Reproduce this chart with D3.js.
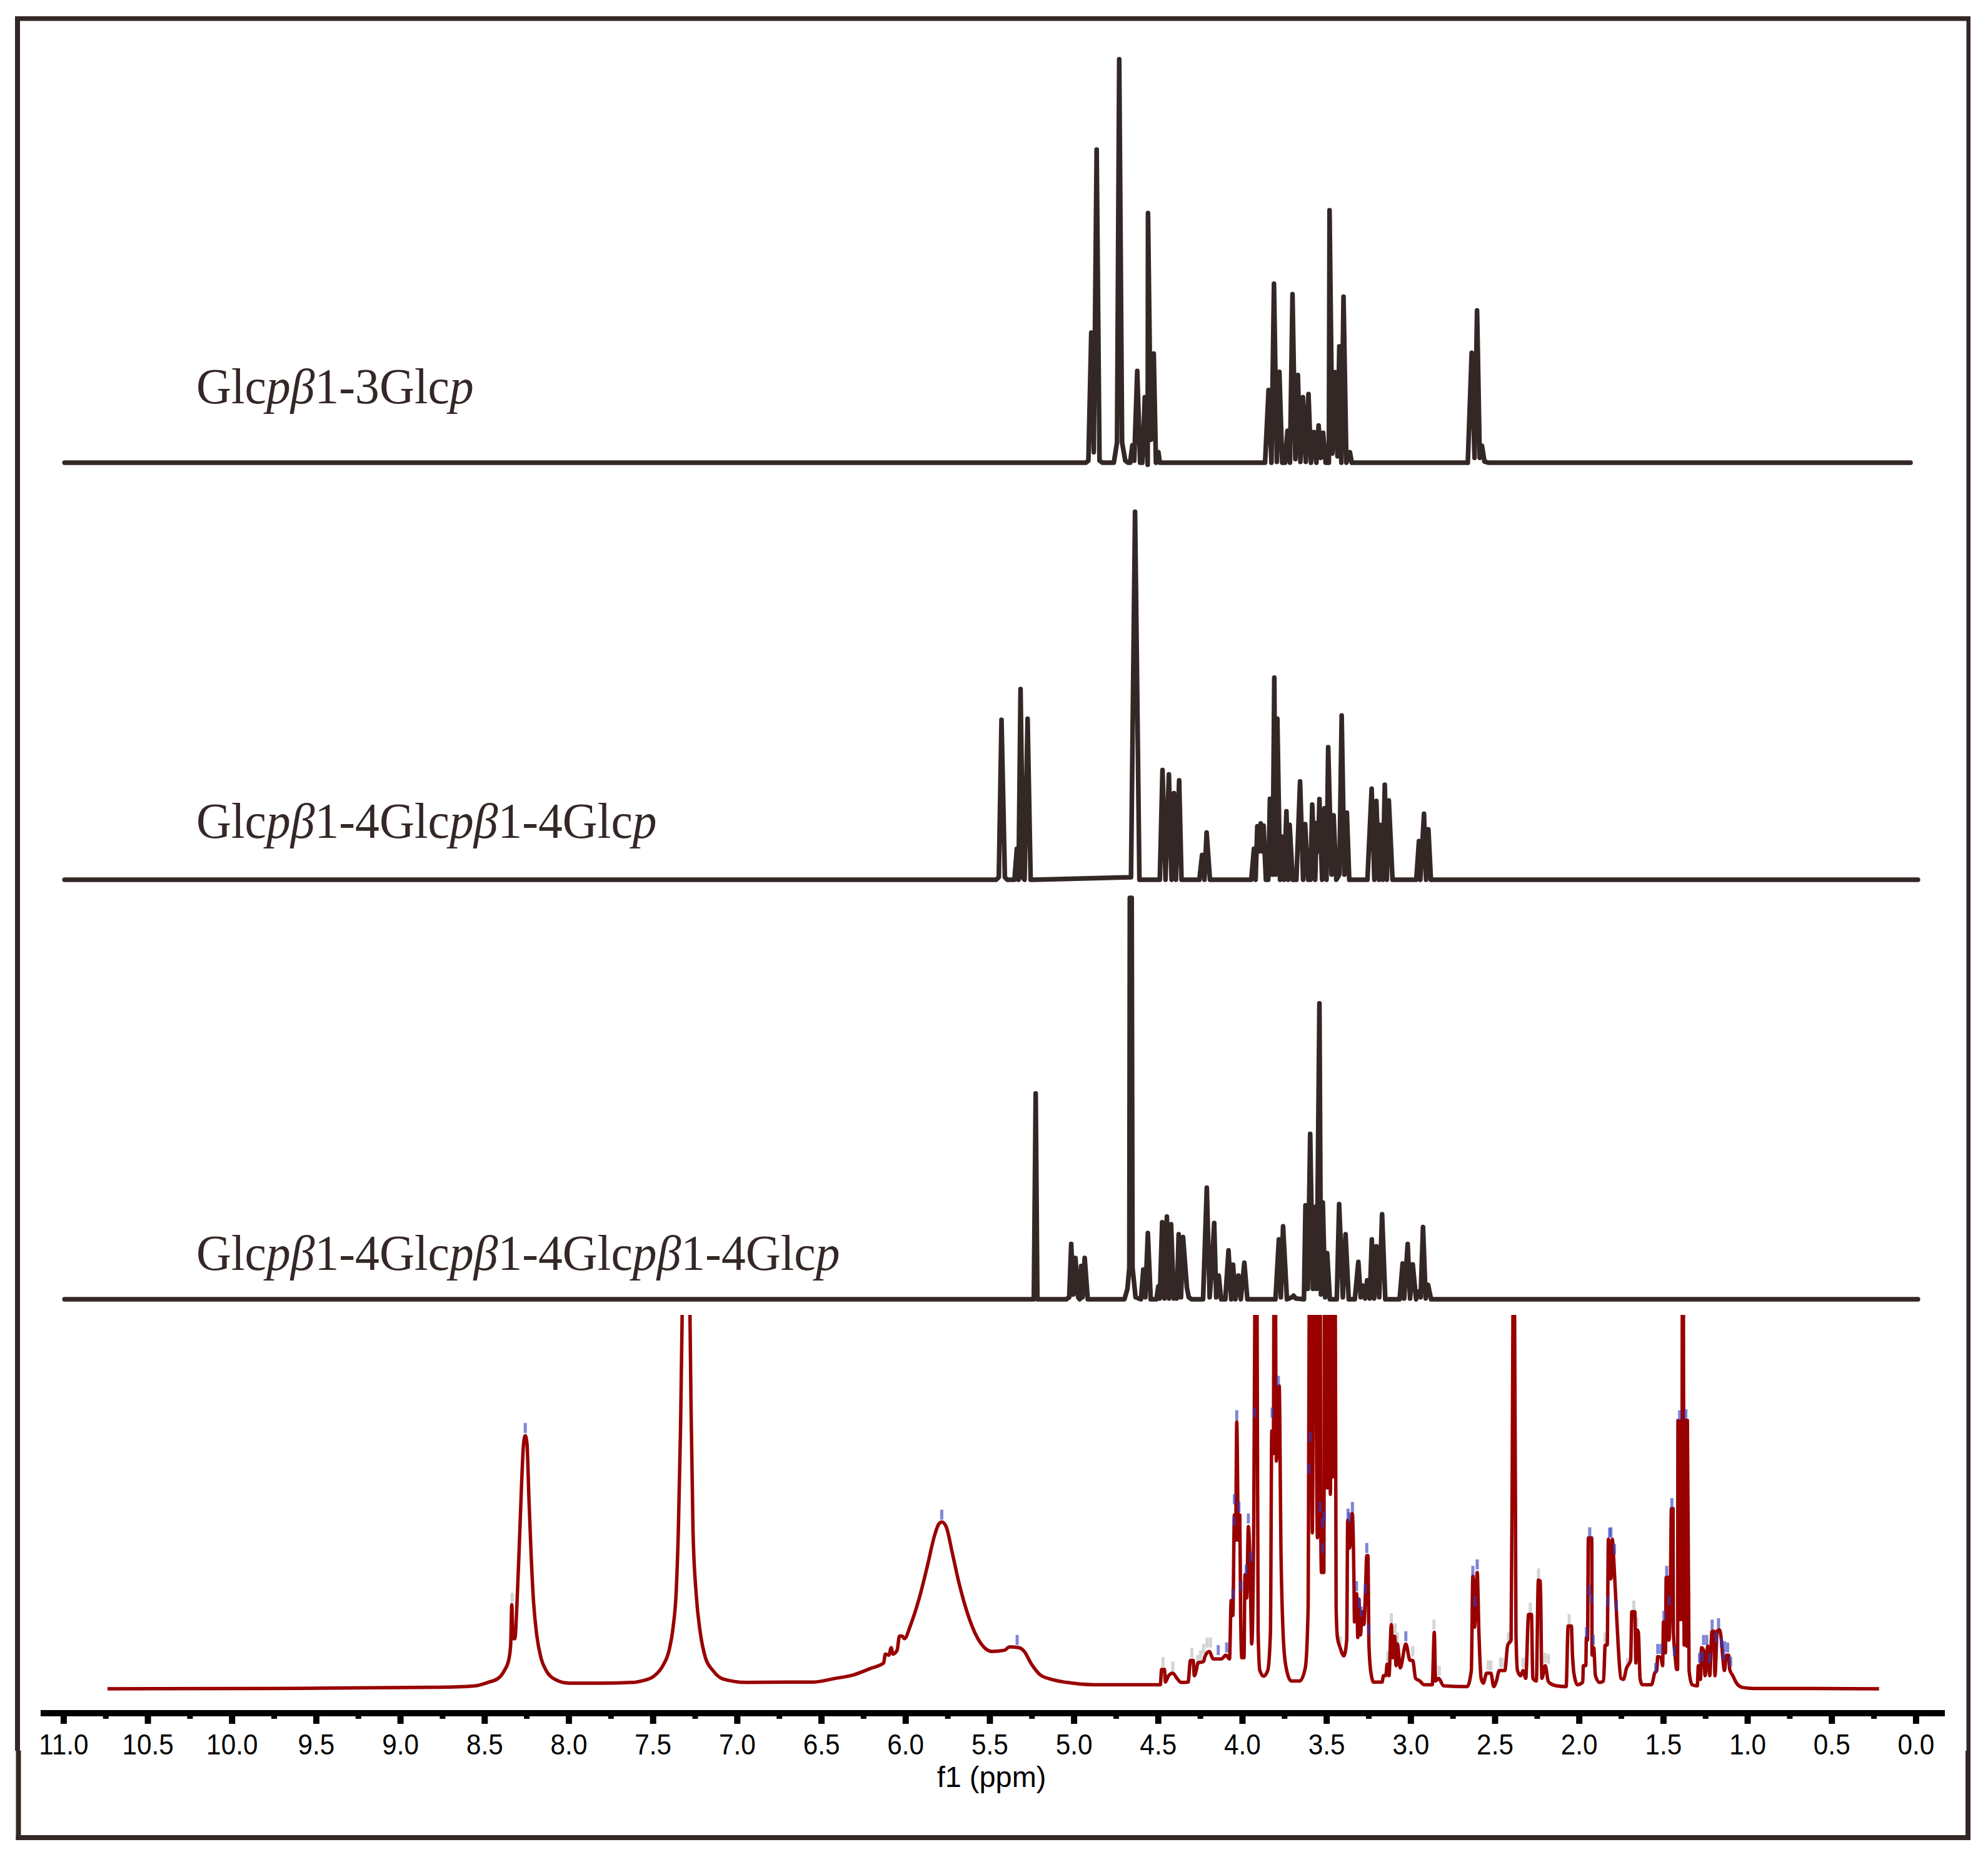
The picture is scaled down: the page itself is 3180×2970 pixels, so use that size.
<!DOCTYPE html>
<html>
  <head>
    <meta charset="utf-8">
    <style>
      html, body { margin: 0; padding: 0; background: #fff; }
      svg { display: block; }
    </style>
    <script src="https://d3js.org/d3.v7.min.js"></script>
    <title>1H NMR spectra</title>
  </head>
  <body>
    <div id="chart"></div>
    <script>
    // --- data: shift in ppm, height in % of the panel
    var labels = ["Glcpβ1-3Glcp", "Glcpβ1-4Glcpβ1-4Glcp", "Glcpβ1-4Glcpβ1-4Glcpβ1-4Glcp"]
    var majorTicks = [11,10.5,10,9.5,9,8.5,8,7.5,7,6.5,6,5.5,5,4.5,4,3.5,3,2.5,2,1.5,1,0.5,0]
    var minorTicks = [10.75,10.25,9.75,9.25,8.75,8.25,7.75,7.25,6.75,6.25,5.75,5.25,4.75,4.25,3.75,3.25,2.75,2.25,1.75,1.25,0.75,0.25]

    // Glcpβ1-3Glcp
    var s1Ppm = [10.995,4.930,4.915,4.898,4.883,4.866,4.849,4.832,4.764,4.745,4.732,4.715,4.696,4.680,4.667,4.654,4.643,4.625,4.608,4.595,4.580,4.563,4.561,4.544,4.527,4.514,4.499,4.491,
      3.866,3.845,3.828,3.813,3.796,3.781,3.764,3.747,3.733,3.718,3.703,3.686,3.671,3.656,3.641,3.624,3.608,3.593,3.576,3.561,3.548,3.535,3.521,3.506,3.487,3.483,3.466,3.451,3.436,3.425,3.413,3.400,3.383,3.362,3.351,
      2.662,2.639,2.622,2.607,2.591,2.578,2.563,2.540,0.033]
    var s1Int = [0,0,0.5,32.2,2.6,77.5,0.5,0,0,5,99.9,5,0.5,0,0,4.3,0.5,22.7,0,0,16.2,-0.5,61.8,5.7,27,0,2.6,0,
      0,18,0,44.3,0.2,22.5,0,0,7.9,0,41.7,0.9,21.7,0.2,16.2,0.2,17,0,7.6,0,9.2,1.2,7.4,0,0,62.5,2.3,22.4,1.6,28.8,0,41.1,0,2.6,0,
      0,27.2,1.2,37.7,1.2,4.2,0.3,0,0]

    // Glcpβ1-4Glcpβ1-4Glcp
    var s2Ppm = [10.995,5.463,5.447,5.431,5.411,5.397,5.354,5.340,5.330,5.318,5.302,5.294,5.276,5.258,5.236,4.662,4.638,4.612,4.491,4.475,4.457,4.437,4.421,4.407,4.395,4.376,4.362,4.340,4.256,4.240,4.226,4.213,4.193,
      3.948,3.932,3.922,3.912,3.902,3.892,3.881,3.875,3.861,3.847,3.837,3.821,3.811,3.803,3.793,3.777,3.767,3.753,3.739,3.729,3.720,3.702,3.680,3.658,3.640,3.628,3.610,3.596,3.586,3.568,3.559,3.551,3.543,3.527,3.513,3.501,3.491,3.471,3.459,3.443,3.425,3.411,3.395,3.380,3.366,
      3.258,3.233,3.217,3.205,3.189,3.183,3.167,3.155,3.143,3.131,3.109,2.968,2.952,2.944,2.922,2.910,2.896,2.881,-0.011]
    var s2Int = [0,0,0.7,43.4,0.7,0,0,8.4,0,51.8,0.4,0,43.7,0,0,0.7,99.9,0,0,29.8,0,28.6,0,23.5,0,27,0,0,0,6.7,0,12.8,0,
      0,8.4,0,14.5,7.7,15.3,7.7,14.7,0,0,22,1.4,54.9,1.4,43.7,0,11.7,0,18.6,0,14.9,0,0,26.7,0,15.1,0,0,20.4,0,15.4,7.7,21.9,0,19.4,0,36,1.4,17.5,0,1.4,44.6,1.4,18.2,0,
      0,24.7,0,21.4,0,14.9,0,25.8,0,21.5,0,0,10.5,0,17.9,0,13.7,0,0]

    // Glcpβ1-4Glcpβ1-4Glcpβ1-4Glcp
    var s3Ppm = [10.995,5.239,5.228,5.218,5.047,5.029,5.017,5.005,4.992,4.976,4.966,4.958,4.950,4.937,4.919,4.701,4.683,4.672,4.669,4.658,4.653,4.635,4.603,4.589,4.577,4.562,4.545,4.511,4.500,4.491,4.477,4.463,4.449,4.436,4.424,4.408,4.401,4.390,4.379,4.365,4.353,4.330,4.319,4.301,4.234,4.212,4.195,4.182,4.168,4.156,4.141,4.127,4.102,4.083,4.067,4.056,4.042,4.024,4.010,3.989,3.971,
      3.804,3.784,3.772,3.759,3.736,3.706,3.697,3.683,3.635,3.626,3.612,3.598,3.582,3.569,3.559,3.543,3.534,3.523,3.509,3.497,3.481,3.440,3.426,3.404,3.388,3.369,3.333,3.312,3.298,3.285,3.271,3.260,3.244,3.232,3.218,3.205,3.188,3.171,3.152,
      3.067,3.049,3.040,3.019,3.005,2.989,2.969,2.957,2.942,2.928,2.912,2.898,2.880,-0.011]
    var s3Int = [0,0,51.3,0,0,0.5,13.8,1.2,10.3,0.5,0,8.3,0.5,10.3,0,0,2.6,7.9,100,100,7.9,0.5,0,7.4,0.5,16.5,0,0,3.2,0.2,19.2,0.2,20.6,0.2,18.7,0.2,5.2,0.2,16.2,0.5,15.5,2.9,0.5,0,0,27.8,0.5,7.9,19,0.5,5.9,0,0,12.2,0,8.6,0,5.9,0,9.1,0,
      0,14.9,0.5,18.2,0,0.5,0.9,0.2,0,23.4,2.6,41.2,2.6,23,2.6,73.7,1.2,24.1,0.5,11.5,0,0,23.7,0.5,16.2,0,0,9.3,0.5,3.4,0.2,4.7,0.2,14.9,0.2,13.2,0.5,21.2,0,
      0,8.9,0.2,13.8,0.2,8.7,0,1.9,0.5,18,0.2,3.6,0,0]

    // crude spectrum (red). 170 = above the cut-off of the panel
    var redPpm = [10.74,9.8,8.77,8.556,8.482,8.420,8.383,8.358,8.346,8.339,8.333,8.321,8.309,8.294,8.281,8.269,8.259,8.249,8.237,8.224,8.210,8.191,8.166,8.135,8.086,7.999,7.814,7.628,7.566,7.492,7.442,7.405,7.381,7.362,7.350,7.337,7.325,7.304,7.283,7.275,7.263,7.244,7.220,7.189,7.145,7.084,6.947,
      6.700,6.552,6.428,6.305,6.206,6.131,6.121,6.100,6.086,6.076,6.051,6.037,6.020,6.008,5.970,5.921,5.871,5.828,5.803,5.785,5.760,5.723,5.686,5.636,5.575,5.525,5.488,5.414,5.383,5.327,5.296,5.253,5.203,5.141,5.042,4.882,
      4.696,4.488,4.480,4.463,4.458,4.439,4.414,4.389,4.364,4.323,4.309,4.293,4.286,4.273,4.265,4.231,4.223,4.198,4.173,4.149,4.124,4.099,4.077,4.067,4.057,4.048,4.041,4.034,4.024,4.016,4.011,4.004,3.991,3.985,3.975,3.965,3.955,3.945,3.933,3.926,3.920,3.914,3.907,3.897,3.875,3.850,3.834,3.826,3.817,3.809,3.799,3.782,3.771,3.759,3.743,3.710,3.660,3.627,3.610,3.607,3.597,3.585,3.574,3.555,3.540,3.536,3.531,3.524,3.517,3.511,3.497,3.491,3.478,3.468,3.463,3.453,3.444,3.436,3.420,3.398,3.381,3.375,3.365,3.348,3.338,3.335,3.322,3.315,3.309,3.299,3.290,3.279,3.270,3.262,3.255,3.249,3.237,3.221,3.171,3.163,3.149,3.141,3.130,3.116,3.108,3.096,3.088,3.080,3.063,3.030,3.005,2.989,2.972,2.947,2.922,2.873,2.861,2.853,2.835,2.806,2.666,2.641,2.632,2.622,2.606,2.596,2.583,2.570,2.550,2.525,2.508,2.492,2.475,2.442,2.425,2.405,2.398,2.393,2.389,2.385,2.379,2.376,2.367,2.348,2.334,2.318,2.301,2.284,2.276,2.255,2.243,2.231,2.222,2.202,2.185,
      2.174,2.134,2.078,2.066,2.047,2.041,2.032,2.010,1.979,1.976,1.961,1.958,1.951,1.946,1.926,1.924,1.914,1.904,1.880,1.856,1.846,1.834,1.827,1.812,1.804,1.794,1.781,1.769,1.753,1.738,1.719,1.695,1.688,1.670,1.664,1.658,1.649,1.639,1.627,1.571,1.552,1.540,1.534,1.515,1.505,1.500,1.488,1.484,1.472,1.468,1.460,1.453,1.443,1.441,1.431,1.422,1.416,1.414,1.406,1.396,1.392,1.385,1.377,1.369,1.361,1.358,1.348,1.330,1.299,1.293,1.280,1.274,1.262,1.253,1.237,1.225,1.212,1.200,1.194,1.181,1.169,1.156,1.150,1.138,1.126,1.113,1.107,1.088,1.070,1.033,0.959,0.612,0.22]
    var redInt = [0,0.1,0.4,0.8,1.7,2.8,4.9,7.6,11.7,22.5,13.4,13.4,22,39,54.7,65.6,67.7,65.6,50.6,35.6,23.3,14.4,8.3,4.9,2.6,1.5,1.5,1.7,2.1,3.5,6.2,10.3,16.5,26.7,42.4,69.7,108,170,108,76.5,42.4,25.3,15.1,8.3,4.9,2.6,1.7,
      1.8,1.8,2.7,3.8,5.5,6.9,9.3,9,11,9.3,10.3,14.1,14.1,13.4,17.2,24,32.9,41.1,44.1,44.6,43.4,36.3,28.8,20.6,13.7,10.7,10,10.3,11.2,11,10,6.6,3.8,2.6,1.7,1.1,
      1.1,1.1,5.2,5.2,1.8,3.5,4.2,2.8,1.7,1.8,7.6,7.6,3.5,5.2,6.9,7.3,8.6,10,8,8,8,9,8,23.6,19.6,46.5,39.7,71.4,39.7,46.5,20.2,8.3,8.3,30.5,24.3,43.4,32.9,12,45,110,170,110,15.1,4.9,3.4,4.9,15.1,69,62.9,170,60.9,81,35.6,15.1,6.2,2.1,2.1,5.6,22,59.5,170,41.7,170,40.4,170,49.2,31.1,46.5,31.1,170,53.7,170,52,170,56.7,170,22,13.7,11,8.8,13,45.1,37.6,46.9,28.8,17.9,25.4,13.7,24,14.4,20.6,17.2,25.4,35.6,35.6,11.7,4.2,1.8,1.8,3.5,3.5,6.6,3.5,17.2,8.3,14.1,6.2,12,5.6,12,7.6,7.6,2.8,2.1,1.1,1.1,15.1,2.1,2.8,0.8,0.6,4.9,30.1,16.5,31.1,15.1,2.8,1.5,4.2,4.2,0.6,2.1,4.9,4.9,11.7,13,60,110,170,110,50,15.1,4.9,3.5,4.9,2.8,19.9,19.9,2.8,2.1,29.1,28.8,2.8,6.2,2.1,
      1.5,0.8,0.6,16.8,16.8,9.6,4.2,1.1,1.8,6.2,6.2,13.7,13,40.4,40.4,9,11,3.5,1.7,2.1,11.7,11.7,40,29.4,40,33.5,22,11.7,2.8,2.5,5.6,7.6,20.6,20.6,6.9,15.8,15.1,2.8,1.1,1.1,4.2,4.9,8.6,8.3,6.2,17.9,9.6,29.8,29.8,13,21.6,48.2,48.2,15.1,9,5.2,5.2,71.8,18.5,71.8,18.5,170,11.7,71.8,11.4,71.8,4.9,1.1,0.8,6.2,2.5,11,10.3,3.5,11.4,3.5,15.4,15.4,3.5,15.4,15.8,13,9.6,4.9,9,9,5.2,3.5,1.8,0.4,0.1,0.1,0]

    // peak picking marks above the red trace: position and top of the mark
    var blueTickPpm = [8.259,5.786,5.338,4.144,4.094,4.057,4.049,4.048,4.034,4.021,4.009,3.978,3.965,3.950,3.928,3.824,3.787,3.605,3.598,3.539,3.524,3.524,3.514,3.373,3.365,3.347,3.323,3.307,3.295,3.270,3.262,3.249,3.030,2.632,2.619,2.606,
      1.957,1.942,1.938,1.927,1.917,1.831,1.820,1.812,1.791,1.780,1.546,1.534,1.515,1.497,1.481,1.466,1.450,1.435,1.404,1.367,1.286,1.270,1.262,1.243,1.227,1.211,1.187,1.173,1.156,1.142,1.138,1.119,1.101]
    var blueTickInt = [71.1,47.9,14.4,11.7,12.4,26.7,46.2,52,74.5,50,28.8,33.2,46.9,36.6,75.2,75.2,83.7,60.2,68.7,50,45.8,39,47.5,48.2,47.2,50,28.8,24.3,22,28.1,39,17.2,15.4,32.9,24.7,34.6,
      16.5,27.7,43.2,25.4,14.4,24.7,43.1,43.2,38.7,23.6,6.9,12,12,20.9,32.9,25,51,11.4,74.5,74.8,9.6,10,14.4,14.4,9.6,18.5,15.1,18.9,13.7,10.3,12.7,12.4,8.6]
    var grayTickPpm = [8.337,4.472,4.414,4.301,4.265,4.248,4.231,4.210,4.190,3.991,3.420,3.138,3.116,3.105,3.093,3.080,2.989,2.863,2.831,2.541,2.525,2.467,
      2.458,2.421,2.404,2.334,2.291,2.242,2.227,2.202,2.183,2.060,2.041,2.032,1.847,1.769,1.713,1.695,1.676,1.658]
    var grayTickInt = [25.7,8.5,7.3,11,9,10.3,12,13.7,13.7,16.5,14.1,10,20.2,14.1,17.5,15.1,11.4,18.5,6.2,7.6,7.6,8.3,
      8.3,15.1,16.5,8.3,23,32.2,8.6,9.6,9.3,20,12.7,7.6,15.1,13,8.3,11,23.6,19.2]

    // --- page
    var width = 3180, height = 2970
    var ink = "#342826", red = "#990000"

    var svg = d3.select("#chart").append("svg")
      .attr("width", width)
      .attr("height", height)
      .style("background", "#fff")

    var defs = svg.append("defs")
    defs.append("clipPath").attr("id", "redClip").append("rect")
      .attr("x", 0).attr("y", 2103).attr("width", width).attr("height", 640)
    defs.append("clipPath").attr("id", "axisClip").append("rect")
      .attr("x", 65).attr("y", 2700).attr("width", 3060).attr("height", 180)

    // outer frame, the image was pasted together so it is 1px off under the axis
    var frame = [[24,26,3128,7.5],[24,26,8,2774],[25.5,2800,8,143],[25.5,2935,3126.5,8],[3145.5,26,6.5,2774],[3144,2800,8,143]]
    svg.selectAll(".frame").data(frame).enter().append("rect")
      .attr("class", "frame")
      .attr("x", function(d) { return d[0] })
      .attr("y", function(d) { return d[1] })
      .attr("width", function(d) { return d[2] })
      .attr("height", function(d) { return d[3] })
      .attr("fill", ink)

    // shared ppm axis, reversed like all NMR plots
    var x = d3.scaleLinear().domain([11.137, -0.171]).range([65, 3111])

    // the 3 black spectra
    var panels = [
      {ppm: s1Ppm, val: s1Int, y0: 740, y1: 94, label: labels[0], base: 645},
      {ppm: s2Ppm, val: s2Int, y0: 1407, y1: 818, label: labels[1], base: 1340},
      {ppm: s3Ppm, val: s3Int, y0: 2078, y1: 1436, label: labels[2], base: 2031}
    ]

    panels.forEach(function(p) {
      var y = d3.scaleLinear().domain([0, 100]).range([p.y0, p.y1])
      var line = d3.line()
        .x(function(d) { return x(d[0]) })
        .y(function(d) { return y(d[1]) })
      svg.append("path")
        .attr("d", line(d3.zip(p.ppm, p.val)))
        .attr("fill", "none")
        .attr("stroke", ink)
        .attr("stroke-width", 7.5)
        .attr("stroke-linejoin", "round")
        .attr("stroke-linecap", "round")

      // p and β are italic in the names
      var t = svg.append("text")
        .attr("transform", "translate(314," + p.base + ") scale(0.97,1)")
        .attr("font-family", "'Liberation Serif', serif")
        .attr("font-size", 80)
        .attr("fill", ink)
      p.label.split(/([pβ]+)/).forEach(function(part) {
        t.append("tspan")
          .attr("font-style", /[pβ]/.test(part) ? "italic" : "normal")
          .text(part)
      })
    })

    // red spectrum, tall peaks are cut at the top of the panel
    var yRed = d3.scaleLinear().domain([0, 100]).range([2701, 2103])
    var redLayer = svg.append("g").attr("clip-path", "url(#redClip)")

    function pickMarks(ppm, val, color) {
      redLayer.selectAll(null).data(d3.zip(ppm, val)).enter().append("rect")
        .attr("x", function(d) { return x(d[0]) - 2.5 })
        .attr("y", function(d) { return yRed(d[1]) })
        .attr("width", 5)
        .attr("height", 16)
        .attr("fill", color)
    }

    pickMarks(grayTickPpm, grayTickInt, "#d4d4d4")

    // ppm goes down so pixels go up, monotoneX keeps the tails smooth without loops
    var redLine = d3.line()
      .curve(d3.curveMonotoneX)
      .x(function(d) { return x(d[0]) })
      .y(function(d) { return yRed(d[1]) })
    redLayer.append("path")
      .attr("d", redLine(d3.zip(redPpm, redInt)))
      .attr("fill", "none")
      .attr("stroke", red)
      .attr("stroke-width", 5.5)
      .attr("stroke-linejoin", "round")

    pickMarks(blueTickPpm, blueTickInt, "rgba(50,60,190,0.62)")

    // axis
    var axisLayer = svg.append("g").attr("clip-path", "url(#axisClip)")
    var minor = axisLayer.append("g")
      .attr("transform", "translate(0,2740)")
      .call(d3.axisBottom(x).tickValues(minorTicks).tickSize(9).tickSizeOuter(0).tickFormat("").offset(0))
    var major = axisLayer.append("g")
      .attr("transform", "translate(0,2740)")
      .call(d3.axisBottom(x).tickValues(majorTicks).tickSize(17).tickSizeOuter(0).tickFormat(d3.format(".1f")).offset(0))

    minor.selectAll("line").attr("stroke", "#000").attr("stroke-width", 9)
    minor.select(".domain").attr("stroke", "#000").attr("stroke-width", 10)
    major.selectAll("line").attr("stroke", "#000").attr("stroke-width", 10)
    major.select(".domain").attr("stroke", "#000").attr("stroke-width", 10)
    major.selectAll("text")
      .attr("y", 66)
      .attr("dy", 0)
      .attr("transform", "scale(0.92,1)")
      .attr("font-family", "'Liberation Sans', sans-serif")
      .attr("font-size", 46)
      .attr("fill", "#000")

    svg.append("text")
      .attr("transform", "translate(1586,2858) scale(1.02,1)")
      .attr("text-anchor", "middle")
      .attr("font-family", "'Liberation Sans', sans-serif")
      .attr("font-size", 46)
      .attr("fill", "#000")
      .text("f1 (ppm)")
    </script>
  </body>
</html>
